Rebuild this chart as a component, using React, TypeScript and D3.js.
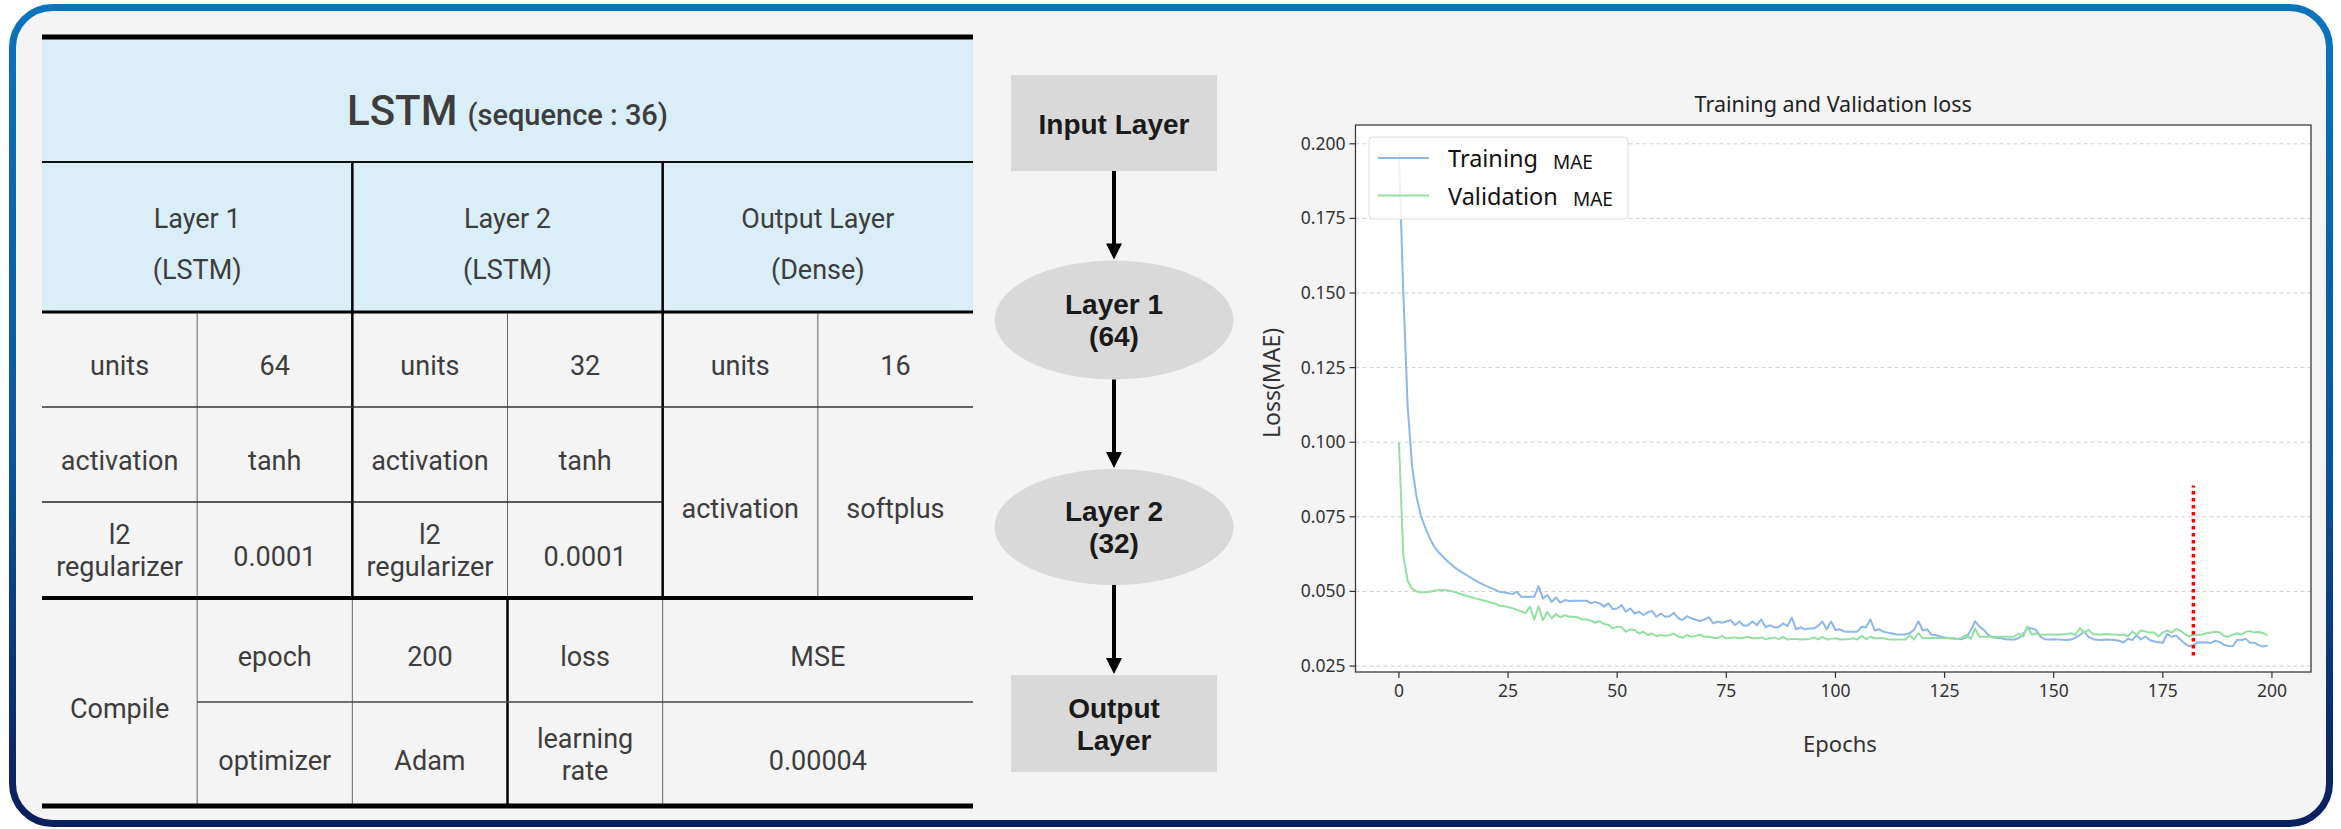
import * as d3 from "d3";

// ---- chart data ----
const EPOCH_TICKS = [0, 25, 50, 75, 100, 125, 150, 175, 200];
const LOSS_TICKS = [0.025, 0.05, 0.075, 0.1, 0.125, 0.15, 0.175, 0.2];

const TRAIN_MAE = [
  0.197, 0.150, 0.112, 0.092, 0.082, 0.0755, 0.0715, 0.0680, 0.0652, 0.0633,
  0.0618, 0.0603, 0.0590, 0.0578, 0.0568, 0.0559, 0.0550, 0.0541, 0.0533, 0.0525,
  0.0518, 0.0512, 0.0506, 0.0499, 0.0497, 0.0494, 0.0491, 0.0499, 0.0482, 0.0482,
  0.0482, 0.0482, 0.0518, 0.0476, 0.0488, 0.0465, 0.0480, 0.0462, 0.0471, 0.0468,
  0.0469, 0.0469, 0.0469, 0.0469, 0.0460, 0.0465, 0.0460, 0.0449, 0.0460, 0.0441,
  0.0443, 0.0454, 0.0432, 0.0443, 0.0426, 0.0432, 0.0421, 0.0430, 0.0434, 0.0415,
  0.0426, 0.0415, 0.0417, 0.0428, 0.0410, 0.0404, 0.0417, 0.0410, 0.0405, 0.0401,
  0.0406, 0.0413, 0.0393, 0.0399, 0.0395, 0.0399, 0.0404, 0.0387, 0.0399, 0.0385,
  0.0387, 0.0399, 0.0387, 0.0406, 0.0380, 0.0387, 0.0380, 0.0380, 0.0393, 0.0384,
  0.0412, 0.0373, 0.0380, 0.0373, 0.0376, 0.0376, 0.0384, 0.0399, 0.0373, 0.0399,
  0.0371, 0.0373, 0.0366, 0.0365, 0.0365, 0.0365, 0.0382, 0.0380, 0.0406, 0.0369,
  0.0373, 0.0365, 0.0362, 0.0359, 0.0356, 0.0356, 0.0356, 0.0360, 0.0371, 0.0400,
  0.0369, 0.0373, 0.0355, 0.0354, 0.0349, 0.0346, 0.0344, 0.0343, 0.0341, 0.0340,
  0.0346, 0.0369, 0.0400, 0.0382, 0.0371, 0.0354, 0.0346, 0.0344, 0.0343, 0.0340,
  0.0339, 0.0339, 0.0344, 0.0357, 0.0378, 0.0376, 0.0371, 0.0348, 0.0340, 0.0339,
  0.0340, 0.0339, 0.0338, 0.0337, 0.0339, 0.0345, 0.0354, 0.0365, 0.0348, 0.0340,
  0.0338, 0.0337, 0.0339, 0.0338, 0.0337, 0.0335, 0.0329, 0.0341, 0.0337, 0.0352,
  0.0339, 0.0349, 0.0337, 0.0332, 0.0330, 0.0328, 0.0358, 0.0348, 0.0352, 0.0339,
  0.0326, 0.0317, 0.0320, 0.0330, 0.0329, 0.0330, 0.0327, 0.0335, 0.0331, 0.0321,
  0.0317, 0.0316, 0.0337, 0.0337, 0.0341, 0.0328, 0.0328, 0.0320, 0.0315, 0.0319,
];

const VAL_MAE = [
  0.100, 0.062, 0.0535, 0.0510, 0.0500, 0.0497, 0.0497, 0.0499, 0.0502, 0.0504,
  0.0505, 0.0504, 0.0501, 0.0497, 0.0492, 0.0487, 0.0483, 0.0479, 0.0475, 0.0471,
  0.0467, 0.0463, 0.0459, 0.0452, 0.0451, 0.0447, 0.0444, 0.0438, 0.0434, 0.0427,
  0.0449, 0.0406, 0.0449, 0.0404, 0.0432, 0.0410, 0.0424, 0.0413, 0.0421, 0.0415,
  0.0415, 0.0413, 0.0406, 0.0406, 0.0402, 0.0395, 0.0401, 0.0391, 0.0388, 0.0376,
  0.0382, 0.0380, 0.0365, 0.0373, 0.0371, 0.0359, 0.0365, 0.0354, 0.0359, 0.0350,
  0.0354, 0.0351, 0.0354, 0.0359, 0.0348, 0.0345, 0.0354, 0.0348, 0.0351, 0.0355,
  0.0348, 0.0348, 0.0345, 0.0343, 0.0351, 0.0343, 0.0345, 0.0346, 0.0343, 0.0345,
  0.0348, 0.0343, 0.0343, 0.0346, 0.0340, 0.0343, 0.0346, 0.0340, 0.0348, 0.0339,
  0.0341, 0.0341, 0.0339, 0.0340, 0.0340, 0.0346, 0.0339, 0.0348, 0.0339, 0.0341,
  0.0343, 0.0339, 0.0340, 0.0340, 0.0343, 0.0339, 0.0351, 0.0340, 0.0348, 0.0343,
  0.0343, 0.0343, 0.0340, 0.0339, 0.0339, 0.0339, 0.0339, 0.0353, 0.0339, 0.0360,
  0.0343, 0.0344, 0.0345, 0.0344, 0.0344, 0.0343, 0.0343, 0.0341, 0.0340, 0.0346,
  0.0354, 0.0341, 0.0376, 0.0348, 0.0348, 0.0348, 0.0348, 0.0348, 0.0348, 0.0348,
  0.0348, 0.0349, 0.0359, 0.0348, 0.0383, 0.0355, 0.0360, 0.0354, 0.0356, 0.0356,
  0.0356, 0.0356, 0.0356, 0.0357, 0.0360, 0.0354, 0.0377, 0.0362, 0.0371, 0.0357,
  0.0356, 0.0356, 0.0357, 0.0356, 0.0356, 0.0354, 0.0356, 0.0349, 0.0366, 0.0355,
  0.0369, 0.0366, 0.0362, 0.0362, 0.0349, 0.0362, 0.0369, 0.0362, 0.0374, 0.0369,
  0.0357, 0.0349, 0.0356, 0.0354, 0.0356, 0.0360, 0.0362, 0.0365, 0.0363, 0.0351,
  0.0348, 0.0355, 0.0360, 0.0355, 0.0365, 0.0367, 0.0362, 0.0364, 0.0360, 0.0353,
];

const STOP_EPOCH = 182;
const STOP_RANGE = [0.0285, 0.0855];

// ---- table content ----
type Cell = { c: number; cs: number; r: number; rs: number; lines: string[] };
const HEADER_CELLS: Cell[] = [
  { c: 0, cs: 2, r: 1, rs: 1, lines: ["Layer 1", "(LSTM)"] },
  { c: 2, cs: 2, r: 1, rs: 1, lines: ["Layer 2", "(LSTM)"] },
  { c: 4, cs: 2, r: 1, rs: 1, lines: ["Output Layer", "(Dense)"] },
];
const BODY_CELLS: Cell[] = [
  { c: 0, cs: 1, r: 2, rs: 1, lines: ["units"] },
  { c: 1, cs: 1, r: 2, rs: 1, lines: ["64"] },
  { c: 2, cs: 1, r: 2, rs: 1, lines: ["units"] },
  { c: 3, cs: 1, r: 2, rs: 1, lines: ["32"] },
  { c: 4, cs: 1, r: 2, rs: 1, lines: ["units"] },
  { c: 5, cs: 1, r: 2, rs: 1, lines: ["16"] },
  { c: 0, cs: 1, r: 3, rs: 1, lines: ["activation"] },
  { c: 1, cs: 1, r: 3, rs: 1, lines: ["tanh"] },
  { c: 2, cs: 1, r: 3, rs: 1, lines: ["activation"] },
  { c: 3, cs: 1, r: 3, rs: 1, lines: ["tanh"] },
  { c: 4, cs: 1, r: 3, rs: 2, lines: ["activation"] },
  { c: 5, cs: 1, r: 3, rs: 2, lines: ["softplus"] },
  { c: 0, cs: 1, r: 4, rs: 1, lines: ["l2", "regularizer"] },
  { c: 1, cs: 1, r: 4, rs: 1, lines: ["0.0001"] },
  { c: 2, cs: 1, r: 4, rs: 1, lines: ["l2", "regularizer"] },
  { c: 3, cs: 1, r: 4, rs: 1, lines: ["0.0001"] },
  { c: 0, cs: 1, r: 5, rs: 2, lines: ["Compile"] },
  { c: 1, cs: 1, r: 5, rs: 1, lines: ["epoch"] },
  { c: 2, cs: 1, r: 5, rs: 1, lines: ["200"] },
  { c: 3, cs: 1, r: 5, rs: 1, lines: ["loss"] },
  { c: 4, cs: 2, r: 5, rs: 1, lines: ["MSE"] },
  { c: 1, cs: 1, r: 6, rs: 1, lines: ["optimizer"] },
  { c: 2, cs: 1, r: 6, rs: 1, lines: ["Adam"] },
  { c: 3, cs: 1, r: 6, rs: 1, lines: ["learning", "rate"] },
  { c: 4, cs: 2, r: 6, rs: 1, lines: ["0.00004"] },
];

const FLOW_NODES = [
  { shape: "rect", lines: ["Input Layer"] },
  { shape: "ellipse", lines: ["Layer 1", "(64)"] },
  { shape: "ellipse", lines: ["Layer 2", "(32)"] },
  { shape: "rect", lines: ["Output", "Layer"] },
];

// ---- layout ----
const W = 2341, H = 829;
const TABLE_FONT = "Roboto, 'Noto Sans', sans-serif";
const SANS = "'Noto Sans', 'Open Sans', sans-serif";
const BOLD_FONT = "'Liberation Sans', Arial, sans-serif";
const TXT = "#3d3d3d";

const colX = d3.range(7).map(i => 42 + i * (931 / 6));
const rowY = [37, 162, 312, 407, 502, 598, 702, 806];

// [c1, c2, row, width, colour]
const H_LINES: [number, number, number, number, string][] = [
  [0, 6, 1, 2, "#111"], [0, 6, 2, 3, "#000"], [0, 6, 3, 1.5, "#333"],
  [0, 4, 4, 1.5, "#222"], [1, 6, 6, 1.5, "#444"],
  [0, 6, 5, 4, "#000"], [0, 6, 0, 5, "#000"], [0, 6, 7, 5, "#000"],
];
// [col, r1, r2, width, colour]
const V_LINES: [number, number, number, number, string][] = [
  [1, 2, 5, 1, "#666"], [3, 2, 5, 1, "#666"], [5, 2, 5, 1, "#666"],
  [1, 5, 7, 1, "#666"], [2, 5, 7, 1, "#666"], [4, 5, 7, 1, "#666"],
  [2, 1, 5, 2.5, "#000"], [4, 1, 5, 2.5, "#000"], [3, 5, 7, 2.5, "#000"],
];

const FLOW_CX = 1114;
const FLOW_GEOM = [
  { cy: 123, hw: 103, hh: 48 },
  { cy: 320, hw: 119.5, hh: 59.5 },
  { cy: 527, hw: 119.5, hh: 58 },
  { cy: 723.5, hw: 103, hh: 48.5 },
];

const PLOT = { left: 1355.5, right: 2311, top: 125, bottom: 672 };
const BLUE = "#8db6ea";
const GREEN = "#93e0a3";

function cellText(cell: Cell, dy1: number, dy2: [number, number], size: number, key: string) {
  const cx = (colX[cell.c] + colX[cell.c + cell.cs]) / 2;
  const cy = (rowY[cell.r] + rowY[cell.r + cell.rs]) / 2;
  const ys = cell.lines.length === 1 ? [cy + dy1] : [cy + dy2[0], cy + dy2[1]];
  return cell.lines.map((t, i) => (
    <text key={key + i} x={cx} y={ys[i]} textAnchor="middle" fontFamily={TABLE_FONT}
      fontSize={size} fill={TXT}>{t}</text>
  ));
}

export default function App() {
  const x = d3.scaleLinear().domain([-9.95, 208.95]).range([PLOT.left, PLOT.right]);
  const y = d3.scaleLinear().domain([0.023, 0.2063]).range([PLOT.bottom, PLOT.top]);
  const line = d3.line<number>().x((_, i) => x(i)).y(d => y(d));
  const fmt = d3.format(".3f");

  return (
    <svg width={W} height={H} style={{ position: "absolute", left: 0, top: 0, display: "block" }}>
      <defs>
        <linearGradient id="frame" x1="0" y1="0" x2="0" y2="1">
          <stop offset="0%" stopColor="#0a74be" />
          <stop offset="55%" stopColor="#0b559a" />
          <stop offset="100%" stopColor="#0a1f5e" />
        </linearGradient>
      </defs>
      <rect x={0} y={0} width={W} height={H} fill="#fff" />
      <rect x={12.5} y={7.5} width={2317} height={816} rx={40} fill="#f4f4f4"
        stroke="url(#frame)" strokeWidth={7} />

      {/* ---- table ---- */}
      <rect x={colX[0]} y={rowY[0]} width={colX[6] - colX[0]} height={rowY[2] - rowY[0]} fill="#daeef8" />
      {V_LINES.map(([c, r1, r2, w, col], i) => (
        <line key={"v" + i} x1={colX[c]} x2={colX[c]} y1={rowY[r1]} y2={rowY[r2]} stroke={col} strokeWidth={w} />
      ))}
      {H_LINES.map(([c1, c2, r, w, col], i) => (
        <line key={"h" + i} x1={colX[c1]} x2={colX[c2]} y1={rowY[r]} y2={rowY[r]} stroke={col} strokeWidth={w} />
      ))}
      <text x={(colX[0] + colX[6]) / 2} y={125} textAnchor="middle" fontFamily={TABLE_FONT} fill={TXT} fontWeight={500}>
        <tspan fontSize={42}>LSTM</tspan>
        <tspan fontSize={29} dx={10}>(sequence : 36)</tspan>
      </text>
      {HEADER_CELLS.map((c, i) => cellText(c, 15, [-9.5, 41.5], 27, "hd" + i))}
      {BODY_CELLS.map((c, i) => cellText(c, 15.5, [-6, 26], 27, "bd" + i))}

      {/* ---- flow diagram ---- */}
      {FLOW_NODES.map((n, i) => {
        const g = FLOW_GEOM[i];
        const ys = n.lines.length === 1 ? [g.cy + 11] : [g.cy - 6, g.cy + 26];
        return (
          <g key={"n" + i}>
            {n.shape === "rect"
              ? <rect x={FLOW_CX - g.hw} y={g.cy - g.hh} width={g.hw * 2} height={g.hh * 2} fill="#d9d9d9" />
              : <ellipse cx={FLOW_CX} cy={g.cy} rx={g.hw} ry={g.hh} fill="#d9d9d9" />}
            {n.lines.map((t, j) => (
              <text key={j} x={FLOW_CX} y={ys[j]} textAnchor="middle" fontFamily={BOLD_FONT}
                fontWeight={700} fontSize={28} fill="#1a1a1a">{t}</text>
            ))}
          </g>
        );
      })}
      {FLOW_GEOM.slice(0, -1).map((g, i) => {
        const y0 = g.cy + g.hh;
        const y1 = FLOW_GEOM[i + 1].cy - FLOW_GEOM[i + 1].hh - 1;
        return (
          <g key={"a" + i}>
            <line x1={FLOW_CX} x2={FLOW_CX} y1={y0} y2={y1 - 12} stroke="#000" strokeWidth={4} />
            <path d={`M${FLOW_CX - 8},${y1 - 16}L${FLOW_CX + 8},${y1 - 16}L${FLOW_CX},${y1}Z`} fill="#000" />
          </g>
        );
      })}

      {/* ---- loss chart ---- */}
      <text x={(PLOT.left + PLOT.right) / 2} y={112} textAnchor="middle" fontFamily={SANS}
        fontSize={21.5} fill="#222">Training and Validation loss</text>
      <rect x={PLOT.left} y={PLOT.top} width={PLOT.right - PLOT.left} height={PLOT.bottom - PLOT.top} fill="#fff" />
      {LOSS_TICKS.map(t => (
        <line key={"g" + t} x1={PLOT.left} x2={PLOT.right} y1={y(t)} y2={y(t)}
          stroke="#cfcfcf" strokeWidth={1} strokeDasharray="4,3" />
      ))}
      <path d={line(TRAIN_MAE) ?? ""} fill="none" stroke={BLUE} strokeWidth={2} strokeLinejoin="round" />
      <path d={line(VAL_MAE) ?? ""} fill="none" stroke={GREEN} strokeWidth={2} strokeLinejoin="round" />
      <line x1={x(STOP_EPOCH)} x2={x(STOP_EPOCH)} y1={y(STOP_RANGE[0])} y2={y(STOP_RANGE[1])}
        stroke="#ff0000" strokeWidth={3.5} strokeDasharray="3.5,3.5" />
      <rect x={PLOT.left} y={PLOT.top} width={PLOT.right - PLOT.left} height={PLOT.bottom - PLOT.top}
        fill="none" stroke="#3a3a3a" strokeWidth={1.3} />
      {LOSS_TICKS.map(t => (
        <g key={"yt" + t}>
          <line x1={PLOT.left - 6} x2={PLOT.left} y1={y(t)} y2={y(t)} stroke="#333" strokeWidth={1.2} />
          <text x={PLOT.left - 10} y={y(t) + 6} textAnchor="end" fontFamily={SANS} fontSize={17.5} fill="#333">{fmt(t)}</text>
        </g>
      ))}
      {EPOCH_TICKS.map(t => (
        <g key={"xt" + t}>
          <line x1={x(t)} x2={x(t)} y1={PLOT.bottom} y2={PLOT.bottom + 6} stroke="#333" strokeWidth={1.2} />
          <text x={x(t)} y={PLOT.bottom + 25} textAnchor="middle" fontFamily={SANS} fontSize={17.5} fill="#333">{t}</text>
        </g>
      ))}
      <text x={1840} y={752} textAnchor="middle" fontFamily={SANS} fontSize={22} fill="#333">Epochs</text>
      <text transform={`translate(1280,383) rotate(-90)`} textAnchor="middle" fontFamily={SANS}
        fontSize={23} fill="#333">Loss(MAE)</text>

      {/* legend */}
      <rect x={1369} y={137} width={259} height={82} rx={4} fill="#fff" fillOpacity={0.85} stroke="#dcdcdc" />
      {[{ c: BLUE, t: "Training", my: 158, mx: 1553 }, { c: GREEN, t: "Validation", my: 195.5, mx: 1573 }].map(e => (
        <g key={e.t}>
          <line x1={1378} x2={1429} y1={e.my} y2={e.my} stroke={e.c} strokeWidth={2} />
          <text x={1448} y={e.my + 9} fontFamily={SANS} fontSize={23.5} fill="#111">{e.t}</text>
          <text x={e.mx} y={e.my + 10.5} fontFamily={SANS} fontSize={19} fill="#111">MAE</text>
        </g>
      ))}
    </svg>
  );
}
